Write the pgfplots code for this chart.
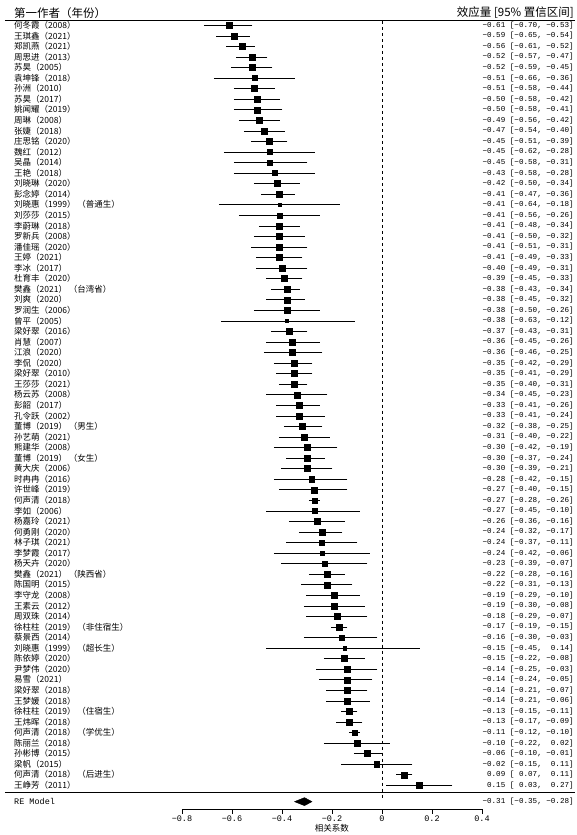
\documentclass[border=0pt]{standalone}
\usepackage{pgfplots}
\usepackage{pgfplotstable}
\pgfplotsset{compat=1.18}
\usepackage{fontspec}
\setmainfont{Liberation Serif}
\newfontfamily\cjk{Noto Sans CJK SC}
\newfontfamily\mono{Liberation Mono}
\newcommand{\fs}{\fontsize{8.5}{9}\selectfont}
\newcommand{\fsm}{\fontsize{7.6}{9}\selectfont}
\newcommand{\fh}{\fontsize{11.5}{12}\selectfont}
\newcommand{\rl}[3]{\node[anchor=west,inner sep=0pt,font=\cjk\fs] at (axis cs:-1.472,#1) {#2};\node[anchor=east,inner sep=0pt,font=\mono\fsm] at (axis cs:0.768,#1) {#3};}
\pgfplotstableread{
row est lo hi s
73 -0.61 -0.70 -0.53 3.0
72 -0.59 -0.65 -0.54 3.0
71 -0.56 -0.61 -0.52 3.0
70 -0.52 -0.57 -0.47 3.0
69 -0.52 -0.59 -0.45 3.0
68 -0.51 -0.66 -0.36 2.6
67 -0.51 -0.58 -0.44 3.0
66 -0.50 -0.58 -0.42 3.0
65 -0.50 -0.58 -0.41 3.0
64 -0.49 -0.56 -0.42 3.0
63 -0.47 -0.54 -0.40 3.0
62 -0.45 -0.51 -0.39 3.0
61 -0.45 -0.62 -0.28 2.6
60 -0.45 -0.58 -0.31 2.6
59 -0.43 -0.58 -0.28 2.6
58 -0.42 -0.50 -0.34 3.0
57 -0.41 -0.47 -0.36 3.0
56 -0.41 -0.64 -0.18 1.7
55 -0.41 -0.56 -0.26 2.6
54 -0.41 -0.48 -0.34 3.0
53 -0.41 -0.50 -0.32 3.0
52 -0.41 -0.51 -0.31 3.0
51 -0.41 -0.49 -0.33 3.0
50 -0.40 -0.49 -0.31 3.0
49 -0.39 -0.45 -0.33 3.0
48 -0.38 -0.43 -0.34 3.0
47 -0.38 -0.45 -0.32 3.0
46 -0.38 -0.50 -0.26 3.0
45 -0.38 -0.63 -0.12 1.7
44 -0.37 -0.43 -0.31 3.0
43 -0.36 -0.45 -0.26 3.0
42 -0.36 -0.46 -0.25 3.0
41 -0.35 -0.42 -0.29 3.0
40 -0.35 -0.41 -0.29 3.0
39 -0.35 -0.40 -0.31 3.0
38 -0.34 -0.45 -0.23 3.0
37 -0.33 -0.41 -0.26 3.0
36 -0.33 -0.41 -0.24 3.0
35 -0.32 -0.38 -0.25 3.0
34 -0.31 -0.40 -0.22 3.0
33 -0.30 -0.42 -0.19 3.0
32 -0.30 -0.37 -0.24 3.0
31 -0.30 -0.39 -0.21 3.0
30 -0.28 -0.42 -0.15 2.6
29 -0.27 -0.40 -0.15 3.0
28 -0.27 -0.28 -0.26 2.5
27 -0.27 -0.45 -0.10 2.6
26 -0.26 -0.36 -0.16 3.0
25 -0.24 -0.32 -0.17 3.0
24 -0.24 -0.37 -0.11 2.6
23 -0.24 -0.42 -0.06 2.2
22 -0.23 -0.39 -0.07 2.6
21 -0.22 -0.28 -0.16 3.0
20 -0.22 -0.31 -0.13 3.0
19 -0.19 -0.29 -0.10 3.0
18 -0.19 -0.30 -0.08 3.0
17 -0.18 -0.29 -0.07 3.0
16 -0.17 -0.19 -0.15 3.0
15 -0.16 -0.30 -0.03 2.6
14 -0.15 -0.45 0.14 1.7
13 -0.15 -0.22 -0.08 3.0
12 -0.14 -0.25 -0.03 3.0
11 -0.14 -0.24 -0.05 3.0
10 -0.14 -0.21 -0.07 3.0
9 -0.14 -0.21 -0.06 3.0
8 -0.13 -0.15 -0.11 3.0
7 -0.13 -0.17 -0.09 3.0
6 -0.11 -0.12 -0.10 2.5
5 -0.10 -0.22 0.02 3.0
4 -0.06 -0.10 -0.01 3.0
3 -0.02 -0.15 0.11 2.6
2 0.09 0.07 0.11 3.0
1 0.15 0.03 0.27 3.0
}\data
\begin{document}
\begin{tikzpicture}
\begin{axis}[
  name=main, at={(0pt,0pt)}, anchor=south west,
  x=250pt, y=10.556pt,
  xmin=-1.528, xmax=0.780, ymin=-3.71, ymax=75.40,
  hide axis, clip=false,
]
\addplot[draw=none] coordinates {(-1.528,-3.71) (0.780,75.40)};
\addplot[black, line width=1.1pt] coordinates {(-1.508,73.43) (0.772,73.43)};
\addplot[black, line width=1.1pt] coordinates {(-1.508,0.34) (0.772,0.34)};
\addplot[black, dashed, line width=0.6pt] coordinates {(0,73.43) (0,-0.2)};
\addplot[draw=none, mark=none,
  error bars/.cd, x dir=both, x explicit,
  error bar style={draw=black, line width=0.6pt},
  error mark options={draw=black, line width=0.6pt, mark size=3pt}]
  table[x=est, y=row, x error plus expr={\thisrow{hi}-\thisrow{est}}, x error minus expr={\thisrow{est}-\thisrow{lo}}]{\data};
\addplot[scatter, only marks, mark=square*,
  scatter/use mapped color={draw=black, fill=black},
  visualization depends on={\thisrow{s} \as \msz},
  scatter/@pre marker code/.append style={/tikz/mark size=\msz pt}]
  table[x=est, y=row]{\data};
\addplot[fill=black, draw=black] coordinates {(-0.35,-0.55) (-0.31,-0.17) (-0.28,-0.55) (-0.31,-0.93) (-0.35,-0.55)};
\node[anchor=west,inner sep=0pt,font=\cjk\fh] at (axis cs:-1.472,74.18) {第一作者（年份）};
\node[anchor=east,inner sep=0pt,font=\cjk\fh] at (axis cs:0.768,74.18) {效应量 [95\% 置信区间]};
\node[anchor=west,inner sep=0pt,font=\mono\fs] at (axis cs:-1.472,-0.55) {RE Model};
\node[anchor=east,inner sep=0pt,font=\mono\fsm] at (axis cs:0.768,-0.55) {−0.31 [−0.35, −0.28]};
\rl{73}{何冬霞（2008）}{−0.61 [−0.70, −0.53]}
\rl{72}{王琪鑫（2021）}{−0.59 [−0.65, −0.54]}
\rl{71}{郑凯燕（2021）}{−0.56 [−0.61, −0.52]}
\rl{70}{周思进（2013）}{−0.52 [−0.57, −0.47]}
\rl{69}{苏昊（2005）}{−0.52 [−0.59, −0.45]}
\rl{68}{袁坤锋（2018）}{−0.51 [−0.66, −0.36]}
\rl{67}{孙洲（2010）}{−0.51 [−0.58, −0.44]}
\rl{66}{苏昊（2017）}{−0.50 [−0.58, −0.42]}
\rl{65}{姚闻耀（2019）}{−0.50 [−0.58, −0.41]}
\rl{64}{周琳（2008）}{−0.49 [−0.56, −0.42]}
\rl{63}{张婕（2018）}{−0.47 [−0.54, −0.40]}
\rl{62}{庄思铭（2020）}{−0.45 [−0.51, −0.39]}
\rl{61}{魏红（2012）}{−0.45 [−0.62, −0.28]}
\rl{60}{吴晶（2014）}{−0.45 [−0.58, −0.31]}
\rl{59}{王艳（2018）}{−0.43 [−0.58, −0.28]}
\rl{58}{刘晓琳（2020）}{−0.42 [−0.50, −0.34]}
\rl{57}{彭念婷（2014）}{−0.41 [−0.47, −0.36]}
\rl{56}{刘晓惠（1999） （普通生）}{−0.41 [−0.64, −0.18]}
\rl{55}{刘莎莎（2015）}{−0.41 [−0.56, −0.26]}
\rl{54}{李蔚琳（2018）}{−0.41 [−0.48, −0.34]}
\rl{53}{罗新兵（2008）}{−0.41 [−0.50, −0.32]}
\rl{52}{潘佳瑶（2020）}{−0.41 [−0.51, −0.31]}
\rl{51}{王婷（2021）}{−0.41 [−0.49, −0.33]}
\rl{50}{李冰（2017）}{−0.40 [−0.49, −0.31]}
\rl{49}{杜育丰（2020）}{−0.39 [−0.45, −0.33]}
\rl{48}{樊鑫（2021） （台湾省）}{−0.38 [−0.43, −0.34]}
\rl{47}{刘爽（2020）}{−0.38 [−0.45, −0.32]}
\rl{46}{罗润生（2006）}{−0.38 [−0.50, −0.26]}
\rl{45}{曾平（2005）}{−0.38 [−0.63, −0.12]}
\rl{44}{梁好翠（2016）}{−0.37 [−0.43, −0.31]}
\rl{43}{肖慧（2007）}{−0.36 [−0.45, −0.26]}
\rl{42}{江浪（2020）}{−0.36 [−0.46, −0.25]}
\rl{41}{李侃（2020）}{−0.35 [−0.42, −0.29]}
\rl{40}{梁好翠（2010）}{−0.35 [−0.41, −0.29]}
\rl{39}{王莎莎（2021）}{−0.35 [−0.40, −0.31]}
\rl{38}{杨云苏（2008）}{−0.34 [−0.45, −0.23]}
\rl{37}{彭韶（2017）}{−0.33 [−0.41, −0.26]}
\rl{36}{孔令跃（2002）}{−0.33 [−0.41, −0.24]}
\rl{35}{董博（2019） （男生）}{−0.32 [−0.38, −0.25]}
\rl{34}{孙艺萌（2021）}{−0.31 [−0.40, −0.22]}
\rl{33}{熊建华（2008）}{−0.30 [−0.42, −0.19]}
\rl{32}{董博（2019） （女生）}{−0.30 [−0.37, −0.24]}
\rl{31}{黄大庆（2006）}{−0.30 [−0.39, −0.21]}
\rl{30}{时冉冉（2016）}{−0.28 [−0.42, −0.15]}
\rl{29}{许世峰（2019）}{−0.27 [−0.40, −0.15]}
\rl{28}{何声清（2018）}{−0.27 [−0.28, −0.26]}
\rl{27}{李如（2006）}{−0.27 [−0.45, −0.10]}
\rl{26}{杨嘉玲（2021）}{−0.26 [−0.36, −0.16]}
\rl{25}{何勇刚（2020）}{−0.24 [−0.32, −0.17]}
\rl{24}{林子琪（2021）}{−0.24 [−0.37, −0.11]}
\rl{23}{李梦霞（2017）}{−0.24 [−0.42, −0.06]}
\rl{22}{杨天卉（2020）}{−0.23 [−0.39, −0.07]}
\rl{21}{樊鑫（2021） （陕西省）}{−0.22 [−0.28, −0.16]}
\rl{20}{陈国明（2015）}{−0.22 [−0.31, −0.13]}
\rl{19}{李守龙（2008）}{−0.19 [−0.29, −0.10]}
\rl{18}{王素云（2012）}{−0.19 [−0.30, −0.08]}
\rl{17}{周双珠（2014）}{−0.18 [−0.29, −0.07]}
\rl{16}{徐柱柱（2019） （非住宿生）}{−0.17 [−0.19, −0.15]}
\rl{15}{蔡景西（2014）}{−0.16 [−0.30, −0.03]}
\rl{14}{刘晓惠（1999） （超长生）}{−0.15 [−0.45,~~0.14]}
\rl{13}{陈依婷（2020）}{−0.15 [−0.22, −0.08]}
\rl{12}{尹梦伟（2020）}{−0.14 [−0.25, −0.03]}
\rl{11}{易雪（2021）}{−0.14 [−0.24, −0.05]}
\rl{10}{梁好翠（2018）}{−0.14 [−0.21, −0.07]}
\rl{9}{王梦媛（2018）}{−0.14 [−0.21, −0.06]}
\rl{8}{徐柱柱（2019） （住宿生）}{−0.13 [−0.15, −0.11]}
\rl{7}{王炜晖（2018）}{−0.13 [−0.17, −0.09]}
\rl{6}{何声清（2018） （学优生）}{−0.11 [−0.12, −0.10]}
\rl{5}{陈丽兰（2018）}{−0.10 [−0.22,~~0.02]}
\rl{4}{孙彬博（2015）}{−0.06 [−0.10, −0.01]}
\rl{3}{梁帆（2015）}{−0.02 [−0.15,~~0.11]}
\rl{2}{何声清（2018） （后进生）}{0.09 [~0.07,~~0.11]}
\rl{1}{王峥芳（2011）}{0.15 [~0.03,~~0.27]}
\end{axis}
\begin{axis}[
  at={(182pt,26pt)}, anchor=south west,
  scale only axis, width=300pt, height=10pt,
  xmin=-0.8, xmax=0.4, ymin=0, ymax=1,
  axis x line*=bottom, axis y line=none,
  xtick={-0.8,-0.6,-0.4,-0.2,0,0.2,0.4},
  xticklabels={−0.8,−0.6,−0.4,−0.2,0,0.2,0.4},
  tick align=outside, major tick length=4.5pt,
  x tick label style={font=\mono\fs, inner sep=2.5pt},
  xlabel={相关系数}, xlabel style={font=\cjk\fs, inner sep=0pt, yshift=0pt},
  axis line style={line width=0.6pt, black}, tick style={line width=0.6pt, black},
]
\end{axis}
\end{tikzpicture}
\end{document}
